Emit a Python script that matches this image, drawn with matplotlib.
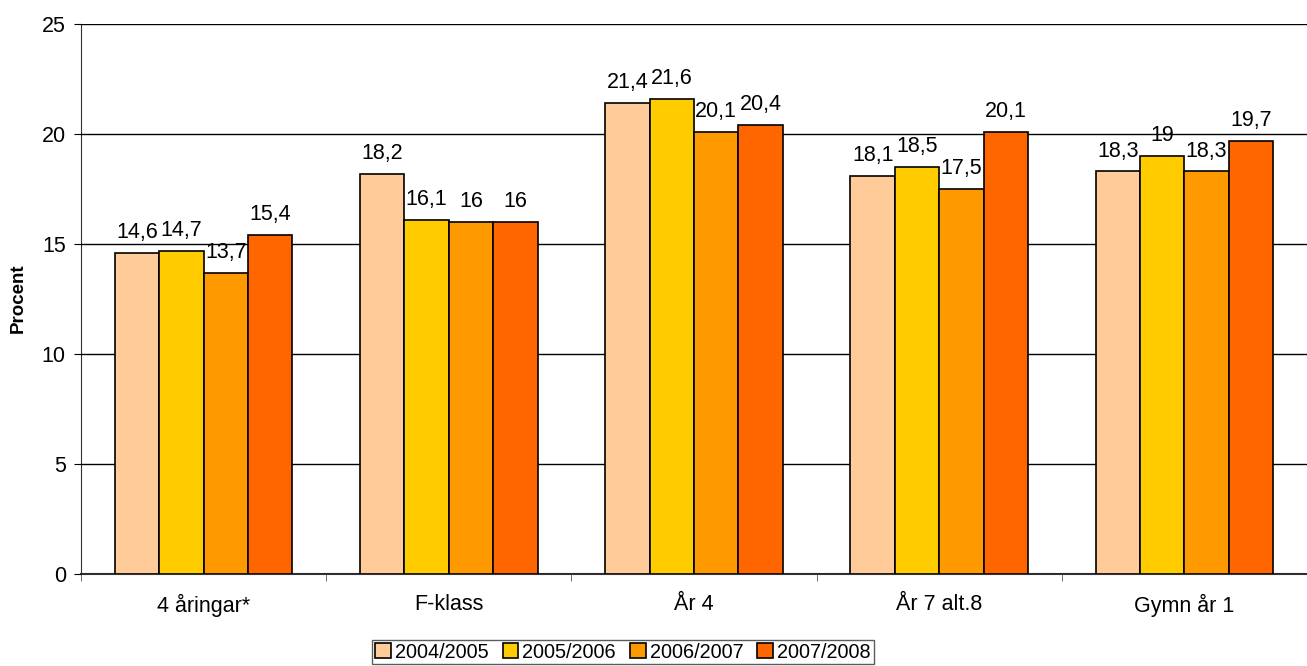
import numpy as np
import matplotlib.pyplot as plt

categories = ['4 åringar*', 'F-klass', 'År 4', 'År 7 alt.8', 'Gymn år 1']
series = ['2004/2005', '2005/2006', '2006/2007', '2007/2008']
values = [
    [14.6, 18.2, 21.4, 18.1, 18.3],
    [14.7, 16.1, 21.6, 18.5, 19.0],
    [13.7, 16.0, 20.1, 17.5, 18.3],
    [15.4, 16.0, 20.4, 20.1, 19.7],
]
colors = ['#FFCC99', '#FFCC00', '#FF9900', '#FF6600']

plt.rcParams['font.family'] = ['Liberation Sans', 'DejaVu Sans']

fig = plt.figure(figsize=(13.07, 6.66), dpi=100)
ax = fig.add_axes([0.062, 0.138, 0.938, 0.826])

x = np.arange(len(categories))
w = 0.181
for i, (name, vals, c) in enumerate(zip(series, values, colors)):
    pos = x + (i - 1.5) * w
    ax.bar(pos, vals, w, color=c, edgecolor='black', linewidth=1.2,
           label=name, zorder=3)
    for xp, v in zip(pos, vals):
        txt = ('%g' % v).replace('.', ',')
        ax.text(xp, v + 0.45, txt, ha='center', va='bottom', fontsize=15.5, zorder=2)

ax.set_xlim(-0.5, len(categories) - 0.5)
ax.set_ylim(0, 25)
ax.set_yticks([0, 5, 10, 15, 20, 25])
ax.yaxis.grid(True, color='black', linewidth=1, zorder=4)
ax.set_axisbelow(False)
ax.tick_params(axis='y', labelsize=15.5, length=5, direction='out', pad=6)

ax.set_xticks(x)
ax.set_xticklabels(categories)
ax.set_xticks(np.arange(len(categories) + 1) - 0.5, minor=True)
ax.tick_params(axis='x', which='major', length=0, labelsize=15.5, pad=14)
ax.tick_params(axis='x', which='minor', length=5, color='#555555')

for s in ['top', 'right']:
    ax.spines[s].set_visible(False)
ax.spines['left'].set_color('#333333')
ax.spines['bottom'].set_color('#333333')
ax.spines['bottom'].set_linewidth(1.5)

fig.text(18 / 1307, 1 - 298 / 666, 'Procent', rotation=90, ha='center', va='center',
         fontsize=13.5, fontweight='bold')

leg = fig.legend(loc='center', bbox_to_anchor=(623 / 1307, 1 - 652 / 666), ncol=4,
                 fontsize=14.3, frameon=True, fancybox=False, edgecolor='#333333',
                 handlelength=0.8, handleheight=0.8, handletextpad=0.2,
                 columnspacing=0.7, borderpad=0.15, borderaxespad=0)
leg.get_frame().set_linewidth(1)

fig.savefig('out.png', dpi=100)
